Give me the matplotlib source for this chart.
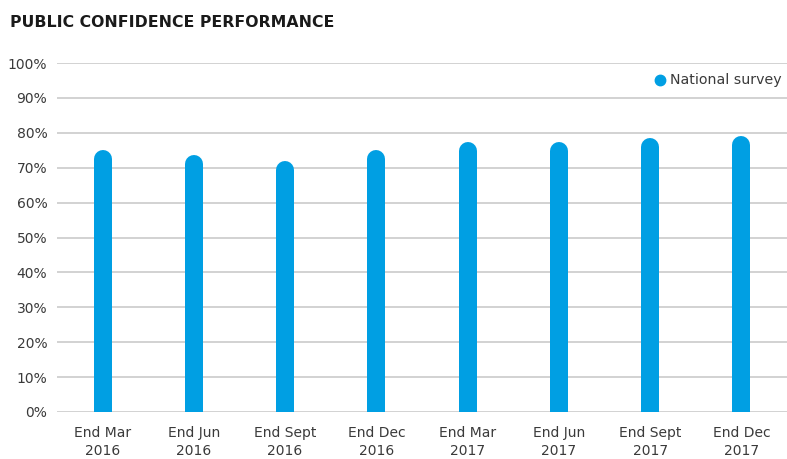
import numpy as np
import matplotlib as mpl
from matplotlib import pyplot as plt
from matplotlib.lines import Line2D

periods = ["End Mar\n2016", "End Jun\n2016", "End Sept\n2016", "End Dec\n2016",
           "End Mar\n2017", "End Jun\n2017", "End Sept\n2017", "End Dec\n2017"]
national_survey = [75.0, 73.5, 72.0, 75.0, 77.5, 77.5, 78.5, 79.0]
y_ticks = [0, 10, 20, 30, 40, 50, 60, 70, 80, 90, 100]

blue = "#009fe3"
grey_text = "#3a3a3a"

plt.rcParams["font.family"] = ["DejaVu Sans"]

fig = plt.figure(figsize=(7.87, 4.59), dpi=100)
ax_rect = [0.0724, 0.1024, 0.9276, 0.7603]
ax = fig.add_axes(ax_rect)

x = np.arange(len(periods))
vals = np.array(national_survey)

# bars are thick lines with round caps; the bottom cap is clipped at 0
bar_px = 18.0
ax_h_px = ax_rect[3] * 459
r = (bar_px / 2) / ax_h_px * 100
ax.vlines(x, -r * 2, vals - r, colors=blue, linewidth=bar_px * 72 / 100,
          capstyle="round", zorder=3)

ax.set_xlim(-0.5, len(periods) - 0.5)
ax.set_ylim(0, 100)
ax.set_yticks(y_ticks)
ax.set_yticklabels(["{}%".format(t) for t in y_ticks])
ax.set_xticks(x)
ax.set_xticklabels(periods, linespacing=1.35)
ax.grid(axis="y", color="#cfcfcf", linewidth=1.3, zorder=0)
ax.set_axisbelow(True)
for s in ax.spines.values():
    s.set_visible(False)
ax.tick_params(axis="both", length=0, labelsize=10, colors=grey_text)
ax.tick_params(axis="y", pad=7)
ax.tick_params(axis="x", pad=10)

handle = Line2D([], [], marker="o", linestyle="none", color=blue, markersize=7.5)
ax.legend([handle], ["National survey"], loc="center right",
          bbox_to_anchor=(1.0, 0.95), frameon=False, fontsize=10.2,
          handletextpad=0.2, handlelength=1.0, borderaxespad=0.0,
          labelcolor=grey_text)

fig.text(0.013, 0.952, "PUBLIC CONFIDENCE PERFORMANCE", fontsize=11.3,
         fontweight="bold", color="#1a1a1a", va="center", ha="left")

fig.savefig("out.png", dpi=100)
